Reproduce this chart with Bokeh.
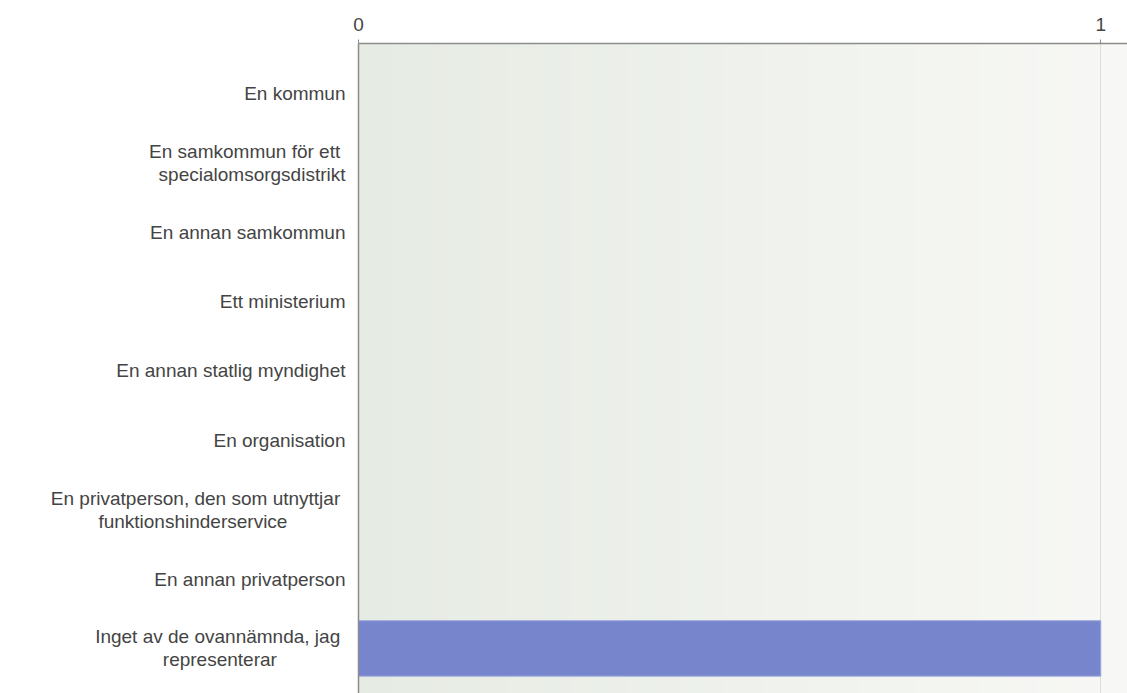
import numpy as np
from bokeh.plotting import figure
from bokeh.models import Range1d, FixedTicker
from bokeh.embed import file_html
from bokeh.resources import INLINE

NB = "\u00a0"
categories = [
    "En kommun",
    "En samkommun för ett" + NB + "\nspecialomsorgsdistrikt",
    "En annan samkommun",
    "Ett ministerium",
    "En annan statlig myndighet",
    "En organisation",
    "En privatperson, den som utnyttjar" + NB + "\nfunktionshinderservice" + NB * 11,
    "En annan privatperson",
    "Inget av de ovannämnda, jag" + NB + "\nrepresenterar" + NB * 13,
]
values = [0, 0, 0, 0, 0, 0, 0, 0, 1]
x_ticks = [0, 1]

ypos = list(range(len(categories)))
y_lo, y_hi = -0.72, 8.65
x_lo, x_hi = 0, 1.036

p = figure(width=1127, height=693, output_backend="svg", toolbar_location=None,
           x_range=Range1d(x_lo, x_hi), y_range=Range1d(y_hi, y_lo),
           x_axis_location="above", min_border_left=358, min_border_top=43,
           min_border_bottom=0, min_border_right=0)
p.outline_line_color = None
p.background_fill_color = "#eef1eb"

# background gradient (decorative strips)
n = 120
edges = np.linspace(x_lo, x_hi, n + 1)
c0 = np.array([230, 235, 227]); c1 = np.array([247, 248, 245])
tt = np.linspace(0, 1, n)
grad_cols = ["#%02x%02x%02x" % tuple((c0 + (c1 - c0) * v).round().astype(int)) for v in tt]
p.quad(left=edges[:-1], right=edges[1:] + 0.002, bottom=y_hi, top=y_lo,
       fill_color=grad_cols, line_color=None, level="underlay")

p.hbar(y=ypos, right=values, left=0, height=0.8, fill_color="#7685cc",
       line_color="#a0aadd", line_width=1)

# x axis (top)
xa = p.xaxis[0]
xa.ticker = FixedTicker(ticks=x_ticks)
xa.axis_line_color = "#8c8c8c"
xa.axis_line_width = 1.5
xa.major_tick_line_color = "#8c8c8c"
xa.major_tick_out = 4
xa.major_tick_in = 0
xa.minor_tick_line_color = None
xa.major_label_standoff = 9
xa.major_label_text_font = "Liberation Sans"
xa.major_label_text_font_size = "19px"
xa.major_label_text_color = "#444444"

ya = p.yaxis[0]
ya.ticker = FixedTicker(ticks=ypos)
ya.major_label_overrides = {i: c for i, c in zip(ypos, categories)}
ya.axis_line_color = "#8c8c8c"
ya.axis_line_width = 1.5
ya.major_tick_line_color = None
ya.minor_tick_line_color = None
ya.major_label_standoff = 7
ya.major_label_text_font = "Liberation Sans"
ya.major_label_text_font_size = "19px"
ya.major_label_text_line_height = 1.1
ya.major_label_text_color = "#444444"

p.xgrid.ticker = FixedTicker(ticks=x_ticks)
p.xgrid.grid_line_color = "#dcdfd9"
p.ygrid.grid_line_color = None

open("out.html", "w").write(file_html(p, INLINE))
